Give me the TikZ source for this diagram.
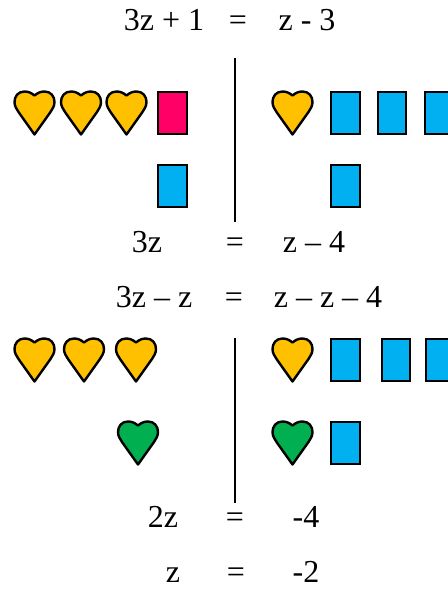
\documentclass[tikz,border=0pt]{standalone}
\usepackage{fontspec}
\setmainfont{Liberation Serif}
\definecolor{hgold}{HTML}{FFC000}
\definecolor{hgreen}{HTML}{00B050}
\definecolor{tblue}{HTML}{00B0F0}
\definecolor{tred}{HTML}{FF0066}
\tikzset{
  x=0.75pt,y=-0.75pt,
  eq/.style={inner sep=0pt,font=\fontsize{24}{28}\selectfont,anchor=base},
  tile/.style={draw=black,line width=1.8pt,minimum width=23.2pt-1.8pt,minimum height=33.5pt-1.8pt,inner sep=0pt,anchor=center},
  divider/.style={draw=black,line width=1.8pt},
  pics/heart/.style={code={
    \draw[fill=#1,draw=black,line width=1.8pt,line join=round]
      (0,-17.5) .. controls (-3,-20) and (-6,-21.5) .. (-10,-21.5)
      .. controls (-16.5,-21.5) and (-20,-16.5) .. (-20,-11)
      .. controls (-20,-7) and (-18,-4) .. (-16,-1)
      -- (0,21.5) -- (16,-1)
      .. controls (18,-4) and (20,-7) .. (20,-11)
      .. controls (20,-16.5) and (16.5,-21.5) .. (10,-21.5)
      .. controls (6,-21.5) and (3,-20) .. (0,-17.5) -- cycle;
  }}
}
\begin{document}
\begin{tikzpicture}
\useasboundingbox (0,0) rectangle (448,589);
\begin{scope}
\clip (0,0) rectangle (448,589);
% row texts
\node[eq] (a1) at (164,31) {3z + 1};
\node[eq] (a2) at (238,31) {=};
\node[eq] (a3) at (307,31) {z - 3};
\node[eq] (b1) at (147,252) {3z};
\node[eq] (b2) at (235,252) {=};
\node[eq] (b3) at (314,252) {z – 4};
\node[eq] (c1) at (154,307) {3z – z};
\node[eq] (c2) at (234,307) {=};
\node[eq] (c3) at (328,307) {z – z – 4};
\node[eq] (d1) at (163,527) {2z};
\node[eq] (d2) at (235,527) {=};
\node[eq] (d3) at (306,527) {-4};
\node[eq] (e1) at (173,582) {z};
\node[eq] (e2) at (236,582) {=};
\node[eq] (e3) at (306,582) {-2};
% dividers
\coordinate (l1a) at (235,58); \coordinate (l1b) at (235,222);
\coordinate (l2a) at (235,338); \coordinate (l2b) at (235,503);
\draw[divider] (l1a) -- (l1b);
\draw[divider] (l2a) -- (l2b);
% upper panel
\pic at (34.5,113) {heart=hgold};
\pic at (81,113) {heart=hgold};
\pic at (126.5,113) {heart=hgold};
\node[tile,fill=tred] (r1) at (172.5,113) {};
\node[tile,fill=tblue] (r2) at (172.5,186) {};
\pic at (292.5,113) {heart=hgold};
\node[tile,fill=tblue] (r3) at (345.5,113) {};
\node[tile,fill=tblue] (r4) at (392,113) {};
\node[tile,fill=tblue] (r5) at (439,113) {};
\node[tile,fill=tblue] (r6) at (345.5,186) {};
% lower panel
\pic at (34.5,360) {heart=hgold};
\pic at (84,360) {heart=hgold};
\pic at (136,360) {heart=hgold};
\pic at (138,443) {heart=hgreen};
\pic at (292.5,360) {heart=hgold};
\pic at (292.5,443) {heart=hgreen};
\node[tile,fill=tblue] (s1) at (345.5,360) {};
\node[tile,fill=tblue] (s2) at (396,360) {};
\node[tile,fill=tblue] (s3) at (440,360) {};
\node[tile,fill=tblue] (s4) at (345.5,443) {};
\end{scope}
\end{tikzpicture}
\end{document}
